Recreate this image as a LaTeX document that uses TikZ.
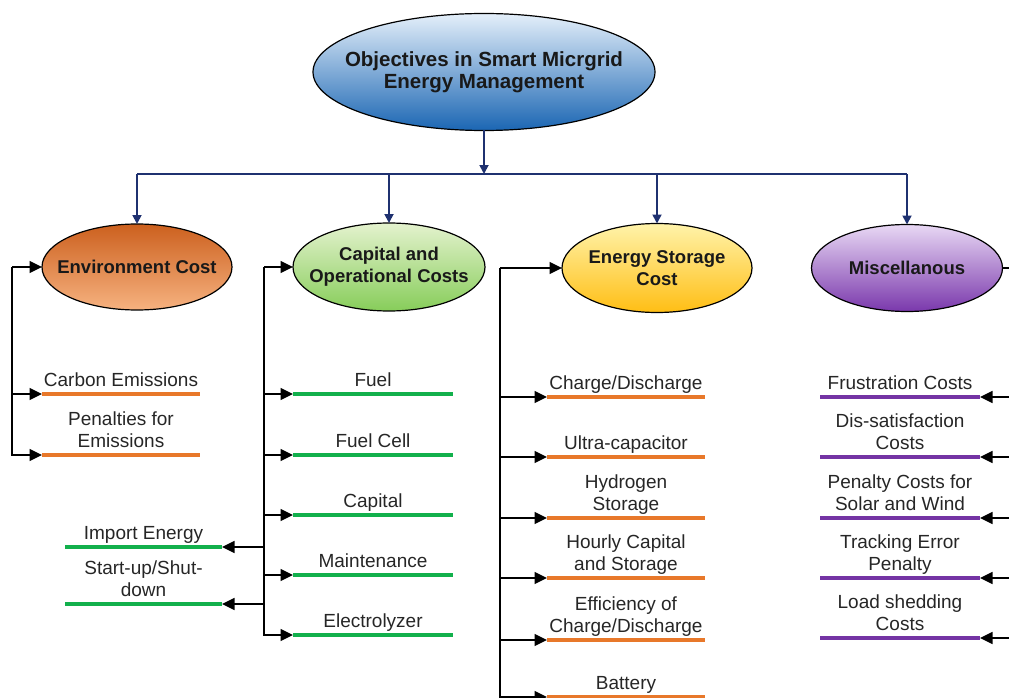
\documentclass[tikz,border=0pt]{standalone}
\usepackage{fontspec}
\setmainfont{Liberation Sans}
\usetikzlibrary{arrows.meta,shapes.geometric}
\definecolor{navy}{HTML}{1F3170}
\definecolor{orng}{HTML}{E8782A}
\definecolor{grn}{HTML}{12B04C}
\definecolor{prp}{HTML}{7434A4}
\newcommand{\twoln}[2]{\begin{tabular}[b]{@{}c@{}}#1\\#2\end{tabular}}
\begin{document}
\begin{tikzpicture}[x=1pt,y=-1pt,
  ell/.style={ellipse, draw=black, line width=1.2pt, inner sep=0pt, outer sep=0pt},
  ellbl/.style={font=\bfseries\fontsize{18.5}{22}\selectfont, align=center, inner sep=0pt, text=black!90},
  lbl/.style={anchor=base, inner sep=0pt, font=\fontsize{19}{22}\selectfont, text=black!85},
  conn/.style={draw=black, line width=1.6pt, -{Triangle[length=12.5pt,width=12pt]}},
  plain/.style={draw=black, line width=1.6pt},
  nv/.style={draw=navy, line width=1.8pt},
  nvarr/.style={nv, -{Triangle[length=9pt,width=9pt]}},
  leaf/.style={rectangle, inner sep=0pt, outer sep=0pt, minimum height=4.5pt, minimum width=158pt, fill=#1}
]
\useasboundingbox (0,0) rectangle (1009,698);
\clip (0,0) rectangle (1009,698);

% ---- ellipses ----
\node[ell, minimum width=342pt, minimum height=117pt,
  top color={rgb,255:red,228;green,239;blue,250}, bottom color={rgb,255:red,27;green,102;blue,179},
  label={[ellbl, font=\bfseries\fontsize{20.5}{21.5}\selectfont]center:{Objectives in Smart Micrgrid\\Energy Management}}] (main) at (484,72) {};
\node[ell, minimum width=190pt, minimum height=86pt,
  top color={rgb,255:red,204;green,96;blue,30}, bottom color={rgb,255:red,246;green,178;blue,128},
  label={[ellbl]center:{Environment Cost}}] (env) at (137,267) {};
\node[ell, minimum width=192pt, minimum height=88pt,
  top color={rgb,255:red,228;green,242;blue,206}, bottom color={rgb,255:red,135;green,205;blue,90},
  label={[ellbl]center:{Capital and\\Operational Costs}}] (cap) at (389,267) {};
\node[ell, minimum width=190pt, minimum height=89pt,
  top color={rgb,255:red,255;green,243;blue,170}, bottom color={rgb,255:red,255;green,190;blue,20},
  label={[ellbl]center:{Energy Storage\\Cost}}] (sto) at (657,268) {};
\node[ell, minimum width=191pt, minimum height=87pt,
  top color={rgb,255:red,232;green,216;blue,244}, bottom color={rgb,255:red,122;green,56;blue,172},
  label={[ellbl]center:{Miscellanous}}] (mis) at (907,268) {};

% ---- top connectors ----
\coordinate (bar) at (484,174);
\draw[nvarr] (main.south) -- (bar);
\draw[nv] (env.north |- bar) -- (mis.north |- bar);
\foreach \n in {env,cap,sto,mis} \draw[nvarr] (\n.north |- bar) -- (\n.north);

% ---- Environment leaves ----
\node[leaf=orng] (carb) at (121,394) {};
\node[lbl] at ([yshift=8pt]carb.center) {Carbon Emissions};
\node[leaf=orng] (pen) at (121,455) {};
\node[lbl] at ([yshift=8pt]pen.center) {\twoln{Penalties for}{Emissions}};

\coordinate (eb) at (12,267);
\draw[conn] (eb) -- (env.west);
\draw[conn] (eb) |- (carb.west);
\draw[conn] (eb) |- (pen.west);

% ---- Capital leaves ----
\node[leaf=grn, minimum width=160pt] (fuel) at (373,394) {};
\node[lbl] at ([yshift=8pt]fuel.center) {Fuel};
\node[leaf=grn, minimum width=160pt] (fcell) at (373,455) {};
\node[lbl] at ([yshift=8pt]fcell.center) {Fuel Cell};
\node[leaf=grn, minimum width=160pt] (capi) at (373,515) {};
\node[lbl] at ([yshift=8pt]capi.center) {Capital};
\node[leaf=grn, minimum width=160pt] (main2) at (373,575) {};
\node[lbl] at ([yshift=8pt]main2.center) {Maintenance};
\node[leaf=grn, minimum width=160pt] (elec) at (373,635) {};
\node[lbl] at ([yshift=8pt]elec.center) {Electrolyzer};
\node[leaf=grn, minimum width=157pt] (imp) at (143.5,547) {};
\node[lbl] at ([yshift=8pt]imp.center) {Import Energy};
\node[leaf=grn, minimum width=157pt] (sud) at (143.5,604) {};
\node[lbl] at ([yshift=8pt]sud.center) {\twoln{Start-up/Shut-}{down}};

\coordinate (cb) at (264,267);
\draw[conn] (cb) -- (cap.west);
\foreach \n in {fuel,fcell,capi,main2,elec} \draw[conn] (cb) |- (\n.west);
\draw[conn] (cb) |- (imp.east);
\draw[conn] (cb) |- (sud.east);

% ---- Storage leaves ----
\node[leaf=orng] (chd) at (626,397) {};
\node[lbl] at ([yshift=8pt]chd.center) {Charge/Discharge};
\node[leaf=orng] (ultra) at (626,457) {};
\node[lbl] at ([yshift=8pt]ultra.center) {Ultra-capacitor};
\node[leaf=orng] (hyd) at (626,518) {};
\node[lbl] at ([yshift=8pt]hyd.center) {\twoln{Hydrogen}{Storage}};
\node[leaf=orng] (hour) at (626,578) {};
\node[lbl] at ([yshift=8pt]hour.center) {\twoln{Hourly Capital}{and Storage}};
\node[leaf=orng] (eff) at (626,640) {};
\node[lbl] at ([yshift=8pt]eff.center) {\twoln{Efficiency of}{Charge/Discharge}};
\node[leaf=orng] (bat) at (626,697) {};
\node[lbl] at ([yshift=8pt]bat.center) {Battery};

\coordinate (sb) at (500,268);
\draw[conn] (sb) -- (sto.west);
\foreach \n in {chd,ultra,hyd,hour,eff,bat} \draw[conn] (sb) |- (\n.west);

% ---- Miscellaneous leaves ----
\node[leaf=prp, minimum width=160pt] (fru) at (900,397) {};
\node[lbl] at ([yshift=8pt]fru.center) {Frustration Costs};
\node[leaf=prp, minimum width=160pt] (dis) at (900,457) {};
\node[lbl] at ([yshift=8pt]dis.center) {\twoln{Dis-satisfaction}{Costs}};
\node[leaf=prp, minimum width=160pt] (pcs) at (900,518) {};
\node[lbl] at ([yshift=8pt]pcs.center) {\twoln{Penalty Costs for}{Solar and Wind}};
\node[leaf=prp, minimum width=160pt] (trk) at (900,578) {};
\node[lbl] at ([yshift=8pt]trk.center) {\twoln{Tracking Error}{Penalty}};
\node[leaf=prp, minimum width=160pt] (lds) at (900,638) {};
\node[lbl] at ([yshift=8pt]lds.center) {\twoln{Load shedding}{Costs}};

\coordinate (mb) at (1012,268);
\draw[plain] (mis.east) -- (mb);
\foreach \n in {fru,dis,pcs,trk,lds} \draw[conn] (mb) |- (\n.east);
\end{tikzpicture}
\end{document}
